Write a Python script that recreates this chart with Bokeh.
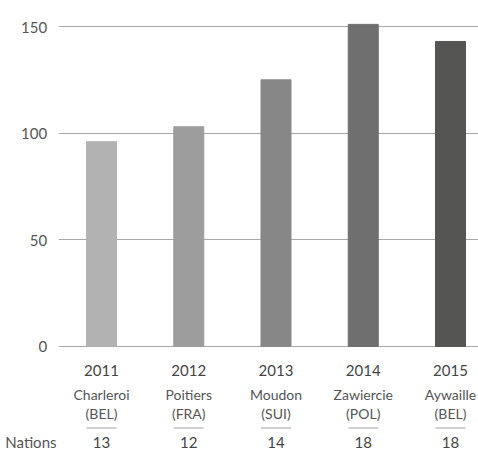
from bokeh.plotting import figure
from bokeh.models import ColumnDataSource, Range1d, FixedTicker
from bokeh.core.properties import value
from bokeh.embed import file_html
from bokeh.resources import INLINE

# ---- data ----
years = [2011, 2012, 2013, 2014, 2015]
participants = [96, 103, 125, 151, 143]
cities = ["Charleroi", "Poitiers", "Moudon", "Zawiercie", "Aywaille"]
countries = ["(BEL)", "(FRA)", "(SUI)", "(POL)", "(BEL)"]
nations = [13, 12, 14, 18, 18]
y_ticks = [0, 50, 100, 150]
row_label = "Nations"
bar_colors = ["#b2b2b2", "#9d9d9d", "#878787", "#6f6f6f", "#555553"]

FONT = "Lato"
BAR_W = 0.344
NAT_Y = -45.0   # vertical position (data units) of the "Nations" row

src = ColumnDataSource(dict(
    year=years,
    year_txt=[str(y) for y in years],
    val=participants,
    city=cities,
    country=countries,
    nat=[str(n) for n in nations],
    color=bar_colors,
    x0=[y - BAR_W / 2 for y in years],
    x1=[y + BAR_W / 2 for y in years],
))

p = figure(width=478, height=452, output_backend="svg", toolbar_location=None,
           x_range=Range1d(2010.507, 2015.321), y_range=Range1d(-49.7, 162.2),
           min_border_left=58, min_border_right=0, min_border_top=0, min_border_bottom=0)
p.outline_line_color = None
p.background_fill_color = "white"
p.border_fill_color = "white"

p.xaxis.visible = False
p.xgrid.visible = False

# y axis: value ticks plus the "Nations" row label
ya = p.yaxis[0]
ya.ticker = FixedTicker(ticks=[NAT_Y] + y_ticks)
overrides = {t: f"{t}\u2002\u2009" for t in y_ticks}
overrides[NAT_Y] = row_label
ya.major_label_overrides = overrides
ya.axis_line_color = None
ya.major_tick_line_color = None
ya.minor_tick_line_color = None
ya.major_tick_out = 0
ya.major_tick_in = 0
ya.minor_tick_out = 0
ya.minor_tick_in = 0
ya.major_label_standoff = 2
ya.major_label_text_font = FONT
ya.major_label_text_font_size = "15px"
ya.major_label_text_color = "#555555"

p.ygrid.ticker = FixedTicker(ticks=y_ticks)
p.ygrid.grid_line_color = "#a8a8a8"
p.ygrid.grid_line_width = 1

p.vbar(x="year", top="val", bottom=0, width=BAR_W, color="color", source=src)

p.text(x="year", y=-11.25, text="year_txt", source=src, text_font=value(FONT),
       text_font_size="15px", text_color="#444444", text_align="center", text_baseline="middle")
p.text(x="year", y=-22.3, text="city", source=src, text_font=value(FONT),
       text_font_size="14px", text_color="#555555", text_align="center", text_baseline="middle")
p.text(x="year", y=-31.2, text="country", source=src, text_font=value(FONT),
       text_font_size="14px", text_color="#555555", text_align="center", text_baseline="middle")
p.segment(x0="x0", x1="x1", y0=-38.2, y1=-38.2, source=src, line_color="#a0a0a0", line_width=1)
p.text(x="year", y=NAT_Y, text="nat", source=src, text_font=value(FONT),
       text_font_size="15px", text_color="#444444", text_align="center", text_baseline="middle")

open("out.html", "w").write(file_html(p, INLINE))
